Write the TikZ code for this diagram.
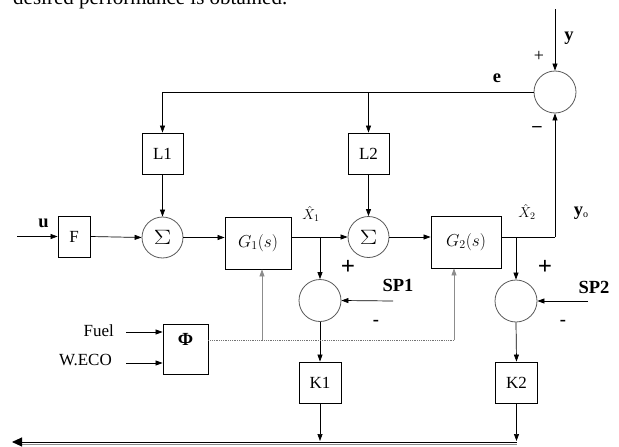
\documentclass[tikz,border=0pt]{standalone}
\usepackage{fontspec}
\usepackage{graphicx}
\setmainfont{Liberation Serif}
\usetikzlibrary{arrows.meta}
\newcommand\fsz[1]{\fontsize{#1}{#1}\selectfont}
\newcommand\mysig{\fsz{21}\scalebox{1.25}[1]{$\Sigma$}}
\tikzset{
  box/.style={draw, line width=0.8pt, inner sep=0pt, font=\fsz{17}},
  sumc/.style={circle, draw=black!65, line width=0.8pt, minimum size=41pt, inner sep=0pt},
  arr/.style={-{Triangle[length=7pt,width=5pt]}, line width=0.7pt},
  ln/.style={line width=0.7pt},
  gln/.style={line width=0.7pt, draw=black!45},
  lbl/.style={font=\bfseries\fsz{18.5}, inner sep=0pt},
  rlbl/.style={font=\fsz{17}, inner sep=0pt},
  mlbl/.style={font=\fsz{14}, inner sep=0pt}
}
\begin{document}
\begin{tikzpicture}[x=1pt,y=-1pt]
\useasboundingbox (0,0) rectangle (619,447);
% top cut-off text
\node[font=\fsz{21}, anchor=base west, inner sep=0pt] (toptext) at (13,5) {desired performance is obtained.};

% blocks
\node[box, minimum width=32, minimum height=41] (F) at (74,236.5) {F};
\node[sumc] (s1) at (162.5,237.5) {\mysig};
\node[box, minimum width=41, minimum height=41] (L1) at (162.5,153.5) {L1};
\node[box, minimum width=66, minimum height=52] (G1) at (258,243) {\fsz{17}$G_1(s)$};
\node[sumc] (s2) at (368.5,237) {\mysig};
\node[box, minimum width=41, minimum height=41] (L2) at (368.5,153.5) {L2};
\node[box, minimum width=70, minimum height=52] (G2) at (466,242) {\fsz{17}$G_2(s)$};
\node[sumc, minimum size=42pt] (c0) at (555,92) {};
\node[sumc, minimum size=42pt] (sp1c) at (320,300.5) {};
\node[sumc, minimum size=42pt] (sp2c) at (516,301) {};
\node[box, minimum width=42, minimum height=41] (K1) at (320,382.5) {K1};
\node[box, minimum width=42, minimum height=41] (K2) at (516.5,382.5) {K2};
\node[box, minimum width=45, minimum height=50] (phi) at (185.5,349) {};
\node[lbl] (phit) at (185.5,339) {Φ};

% labels
\node[lbl] (ulab) at (43.5,223.5) {u};
\node[lbl] (elab) at (497,78) {e};
\node[lbl] (ylab) at (569,38) {y};
\node[font=\fsz{18}, inner sep=0pt] (plus0) at (539,56) {+};
\node[lbl] (minus0) at (537,129) {–};
\node[mlbl] (x1lab) at (311,214) {$\hat{X}_1$};
\node[mlbl] (x2lab) at (527,212) {$\hat{X}_2$};
\node[lbl] (yolab) at (581,213) {y\raisebox{-0.25ex}{\fsz{10}\mdseries o}};
\node[font=\bfseries\fsz{25}, inner sep=0pt] (plus1) at (348,267) {+};
\node[font=\bfseries\fsz{25}, inner sep=0pt] (plus2) at (545,267) {+};
\node[lbl] (sp1lab) at (398,285) {SP1};
\node[lbl] (sp2lab) at (594,287) {SP2};
\node[lbl] (minus1) at (376,323) {-};
\node[lbl] (minus2) at (563,323) {-};
\node[rlbl, anchor=east] (fuel) at (114,331) {Fuel};
\node[rlbl, anchor=east] (weco) at (112,360) {W.ECO};

% coordinates
\coordinate (uin) at (17,236.5);
\coordinate (b1) at (320,237);
\coordinate (b2) at (516,237);
\coordinate (fb) at (555,237);
\coordinate (ytop) at (555,9);
\coordinate (ej) at (368.5,92);
\coordinate (el) at (162.5,92);
\coordinate (sp1in) at (393,301);
\coordinate (sp2in) at (588,301);
\coordinate (bus1) at (320,441);
\coordinate (bus2) at (516.5,441);
\coordinate (busR) at (516.5,442);
\coordinate (busL) at (12,442);
\coordinate (fuelin) at (126,332);
\coordinate (wecoin) at (126,363);
\coordinate (dl) at (262,340);
\coordinate (dr) at (454,340);

% connectors
\draw[arr] (uin) -- (F.west);
\draw[arr] (F.east) -- (s1.west);
\draw[arr] (s1.east) -- (s1.east -| G1.west);
\draw[arr] (G1.east |- b1) -- (s2.west);
\draw[arr] (b1) -- (sp1c.north);
\draw[arr] (s2.east) -- (s2.east -| G2.west);
\draw[ln] (G2.east |- b2) -- (fb);
\draw[arr] (fb) -- (c0.south);
\draw[arr] (b2) -- (sp2c.north);
\draw[arr] (ytop) -- (c0.north);
\draw[ln] (c0.west) -- (el);
\draw[arr] (el) -- (L1.north);
\draw[arr] (ej) -- (L2.north);
\draw[arr] (L1.south) -- (s1.north);
\draw[arr] (L2.south) -- (s2.north);
\draw[arr] (sp1in) -- (sp1c.east);
\draw[arr] (sp2in) -- (sp2c.east);
\draw[arr] (sp1c.south) -- (K1.north);
\draw[arr] (sp2c.south) -- (K2.north);
\draw[arr] (K1.south) -- (bus1);
\draw[arr] (K2.south) -- (bus2);
\draw[line width=1.3pt, draw=black!45] (516.5,444.8) -- (22,444.8);
\draw[line width=0.9pt, -{Triangle[length=10pt,width=9pt]}] (busR) -- (busL);
\draw[arr] (fuelin) -- (fuelin -| phi.west);
\draw[arr] (wecoin) -- (wecoin -| phi.west);
\draw[densely dotted, line width=0.8pt, draw=black!55] (phi.east |- dl) -- (dr);
\draw[gln, -{Triangle[length=7pt,width=5pt]}] (dl) -- (dl |- G1.south);
\draw[gln, -{Triangle[length=7pt,width=5pt]}] (dr) -- (dr |- G2.south);
\end{tikzpicture}
\end{document}
